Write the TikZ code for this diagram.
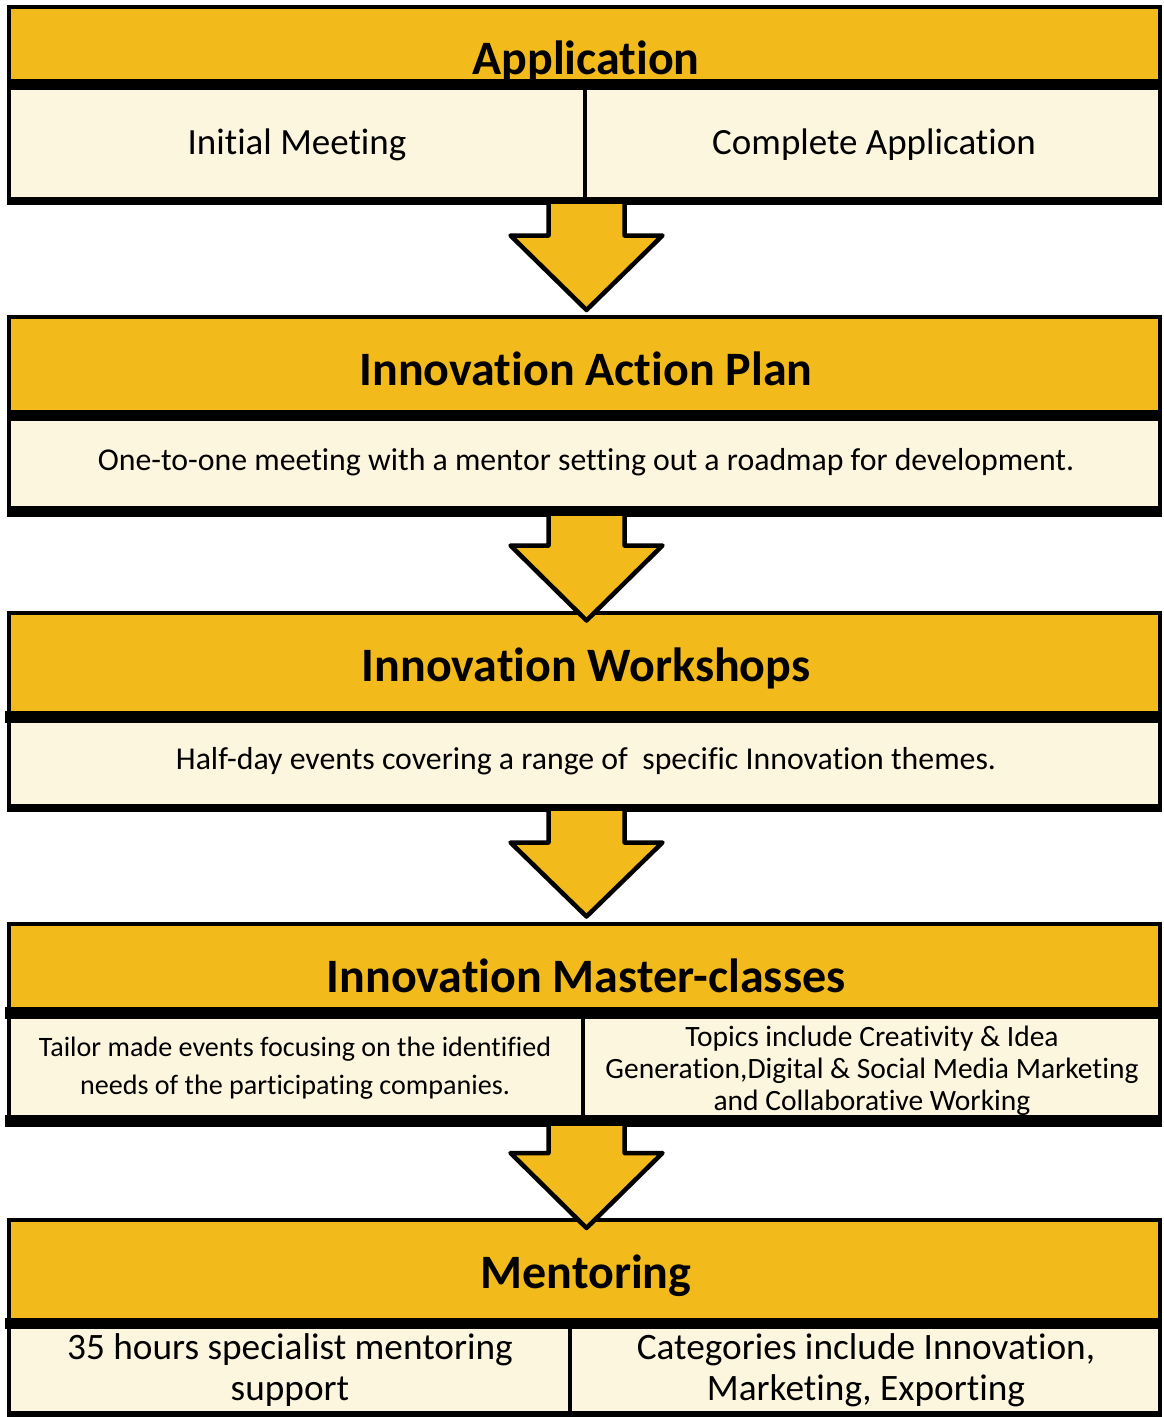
\documentclass[tikz,border=0pt]{standalone}
\usepackage{fontspec}
\setmainfont{Carlito}[Ligatures=NoCommon]
\definecolor{gold}{RGB}{243,186,27}
\definecolor{cream}{RGB}{253,246,223}
\tikzset{
  hdrfill/.style={fill=gold},
  bodyfill/.style={fill=cream},
  frame/.style={draw=black,line width=4pt},
  band/.style={draw=black,line width=11pt},
  divider/.style={draw=black,line width=4.5pt},
  bigarrow/.style={fill=gold,draw=black,line width=4.5pt,line join=round},
  ttl/.style={font=\fontsize{48}{52}\selectfont\bfseries,inner sep=0pt,anchor=base},
  txtA/.style={font=\fontsize{37}{40}\selectfont,inner sep=0pt,anchor=base},
  txtB/.style={font=\fontsize{31.8}{34}\selectfont,inner sep=0pt,anchor=base},
  txtC/.style={font=\fontsize{28.1}{38}\selectfont,inner sep=0pt,anchor=base,align=center},
  txtD/.style={font=\fontsize{29.5}{31.7}\selectfont,inner sep=0pt,anchor=base,align=center},
  txtE/.style={font=\fontsize{37.3}{40.5}\selectfont,inner sep=0pt,anchor=base,align=center},
}
\newcommand{\downarrowshape}[4]{% name, top, shoulder, tip
  \filldraw[bigarrow] (548.5,#2) -- (548.5,#3) -- (510.5,#3) -- (586.5,#4) coordinate (#1)
     -- (662.5,#3) -- (624.5,#3) -- (624.5,#2);
}
\begin{document}
\begin{tikzpicture}[x=1pt,y=-1pt]
\useasboundingbox[fill=white] (0,0) rectangle (1163,1417);

% ---------- Box 1: Application
\fill[hdrfill] (9,7) rectangle (1160,85);
\fill[bodyfill] (9,85) rectangle (1160,201);
\draw[frame] (9,7) rectangle (1160,201);
\draw[band] (7,84.5) -- (1162,84.5);
\draw[black,line width=8pt] (7,201) -- (1162,201);
\draw[divider] (585,84) -- (585,199);
\node[ttl] (t1) at (586,74) {Application};
\node[txtA] (a1) at (297,154) {Initial Meeting};
\node[txtA] (a2) at (874,154) {Complete Application};

% ---------- Box 2: Innovation Action Plan
\fill[hdrfill] (9,316.5) rectangle (1160,415);
\fill[bodyfill] (9,415) rectangle (1160,510);
\draw[frame] (9,316.5) rectangle (1160,510);
\draw[band] (7,415.5) -- (1162,415.5);
\draw[black,line width=11pt] (7,511.5) -- (1162,511.5);
\node[ttl] (t2) at (586,385) {Innovation Action Plan};
\node[txtB] (b1) at (586,470.5) {One-to-one meeting with a mentor setting out a roadmap for development.};

% ---------- Box 3: Innovation Workshops
\fill[hdrfill] (9,612.5) rectangle (1160,717);
\fill[bodyfill] (9,717) rectangle (1160,808);
\draw[frame] (9,612.5) rectangle (1160,808);
\draw[line width=12pt] (5,717) -- (1161,717);
\draw[black,line width=8.5pt] (7,808) -- (1162,808);
\node[ttl] (t3) at (586,681) {Innovation Workshops};
\node[txtB] (c1) at (586,769) {Half-day events covering a range of \ specific Innovation themes.};

% ---------- Box 4: Innovation Master-classes
\fill[hdrfill] (9,923.5) rectangle (1160,1013);
\fill[bodyfill] (9,1013) rectangle (1160,1121);
\draw[frame] (9,923.5) rectangle (1160,1121);
\draw[line width=12pt] (5,1013) -- (1161,1013);
\draw[black,line width=12pt] (5,1121) -- (1162,1121);
\draw[divider] (583,1013) -- (583,1117);
\node[ttl] (t4) at (586,992) {Innovation Master-classes};
\node[txtC] (d1) at (295,1094) {Tailor made events focusing on the identified\\needs of the participating companies.};
\node[txtD] (d2) at (872,1110) {Topics include Creativity \& Idea\\Generation,Digital \& Social Media Marketing\\and Collaborative Working};

% ---------- Box 5: Mentoring
\fill[hdrfill] (9,1219.5) rectangle (1160,1323);
\fill[bodyfill] (9,1323) rectangle (1160,1414);
\draw[frame] (9,1219.5) rectangle (1160,1414);
\draw[band] (5,1323) -- (1162,1323);
\draw[black,line width=6pt] (7,1414) -- (1162,1414);
\draw[divider] (570,1323) -- (570,1412);
\node[ttl] (t5) at (586,1288) {Mentoring};
\node[txtE] (e1) at (290,1400) {35 hours specialist mentoring\\support};
\node[txtE] (e2) at (866,1400) {Categories include Innovation,\\Marketing, Exporting};

% ---------- Arrows
\downarrowshape{p1}{204}{235.5}{310}
\downarrowshape{p2}{516}{545.5}{620.5}
\downarrowshape{p3}{811}{842.5}{916.5}
\downarrowshape{p4}{1126}{1153}{1228}
\end{tikzpicture}
\end{document}
